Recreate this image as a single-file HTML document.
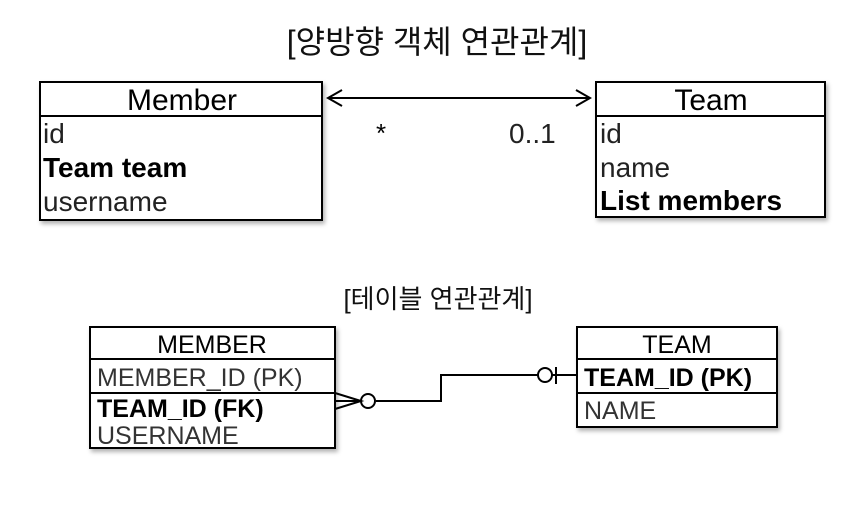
<!DOCTYPE html>
<html><head><meta charset="utf-8"><style>
html,body{margin:0;padding:0;background:#fff;}
svg text{font-family:"Liberation Sans","Noto Sans CJK KR",sans-serif;}
</style></head><body>
<svg width="855" height="506" viewBox="0 0 855 506" xmlns="http://www.w3.org/2000/svg">
<defs><filter id="sh" x="-10%" y="-10%" width="130%" height="130%"><feDropShadow dx="2" dy="3" stdDeviation="2" flood-color="#000" flood-opacity="0.3"/></filter></defs>
<text x="437" y="53" font-size="32" text-anchor="middle" fill="#111">[양방향 객체 연관관계]</text>
<!-- Member -->
<rect x="40" y="82" width="282" height="138" fill="#fff" stroke="#000" stroke-width="2" filter="url(#sh)"/>
<line x1="40" y1="116" x2="322" y2="116" stroke="#000" stroke-width="2"/>
<text x="182" y="110" font-size="30" text-anchor="middle">Member</text>
<text x="43" y="143" font-size="28" fill="#222">id</text>
<text x="43" y="177" font-size="28" font-weight="bold">Team team</text>
<text x="43" y="211" font-size="28" fill="#222">username</text>
<!-- Team -->
<rect x="596" y="82" width="229" height="135" fill="#fff" stroke="#000" stroke-width="2" filter="url(#sh)"/>
<line x1="596" y1="116" x2="825" y2="116" stroke="#000" stroke-width="2"/>
<text x="711" y="110" font-size="30" text-anchor="middle">Team</text>
<text x="600" y="143" font-size="28" fill="#222">id</text>
<text x="600" y="177" font-size="28" fill="#222">name</text>
<text x="600" y="210" font-size="28" font-weight="bold">List members</text>
<!-- arrow -->
<line x1="328" y1="98" x2="590" y2="98" stroke="#000" stroke-width="2"/>
<polyline points="342,90 328,98 342,106" fill="none" stroke="#000" stroke-width="2"/>
<polyline points="576,90 590,98 576,106" fill="none" stroke="#000" stroke-width="2"/>
<text x="381" y="142" font-size="26" text-anchor="middle">*</text>
<text x="509" y="143" font-size="28" fill="#222">0..1</text>

<text x="438" y="308" font-size="26" text-anchor="middle" fill="#111">[테이블 연관관계]</text>
<!-- MEMBER -->
<rect x="90" y="327" width="245" height="121" fill="#fff" stroke="#000" stroke-width="2" filter="url(#sh)"/>
<line x1="90" y1="359" x2="335" y2="359" stroke="#000" stroke-width="2"/>
<line x1="90" y1="393" x2="335" y2="393" stroke="#000" stroke-width="2"/>
<text x="212" y="353" font-size="25" text-anchor="middle">MEMBER</text>
<text x="97" y="386" font-size="25" fill="#333">MEMBER_ID (PK)</text>
<text x="97" y="417" font-size="25" font-weight="bold">TEAM_ID (FK)</text>
<text x="97" y="444" font-size="25" fill="#333">USERNAME</text>
<!-- TEAM -->
<rect x="577" y="327" width="200" height="100" fill="#fff" stroke="#000" stroke-width="2" filter="url(#sh)"/>
<line x1="577" y1="359" x2="777" y2="359" stroke="#000" stroke-width="2"/>
<line x1="577" y1="393" x2="777" y2="393" stroke="#000" stroke-width="2"/>
<text x="677" y="353" font-size="25" text-anchor="middle">TEAM</text>
<text x="584" y="386" font-size="25" font-weight="bold">TEAM_ID (PK)</text>
<text x="584" y="419" font-size="25" fill="#333">NAME</text>
<!-- connector -->
<polyline points="376,401 441,401 441,375 538,375" fill="none" stroke="#000" stroke-width="2"/>
<line x1="552" y1="375" x2="577" y2="375" stroke="#000" stroke-width="2"/>
<line x1="556" y1="367" x2="556" y2="384" stroke="#000" stroke-width="2"/>
<circle cx="545" cy="375" r="7" fill="#fff" stroke="#000" stroke-width="2"/>
<circle cx="368" cy="401" r="7" fill="#fff" stroke="#000" stroke-width="2"/>
<polyline points="335,393 361,401 335,409" fill="none" stroke="#000" stroke-width="2"/>
<line x1="335" y1="401" x2="361" y2="401" stroke="#000" stroke-width="2"/>
</svg>
</body></html>
